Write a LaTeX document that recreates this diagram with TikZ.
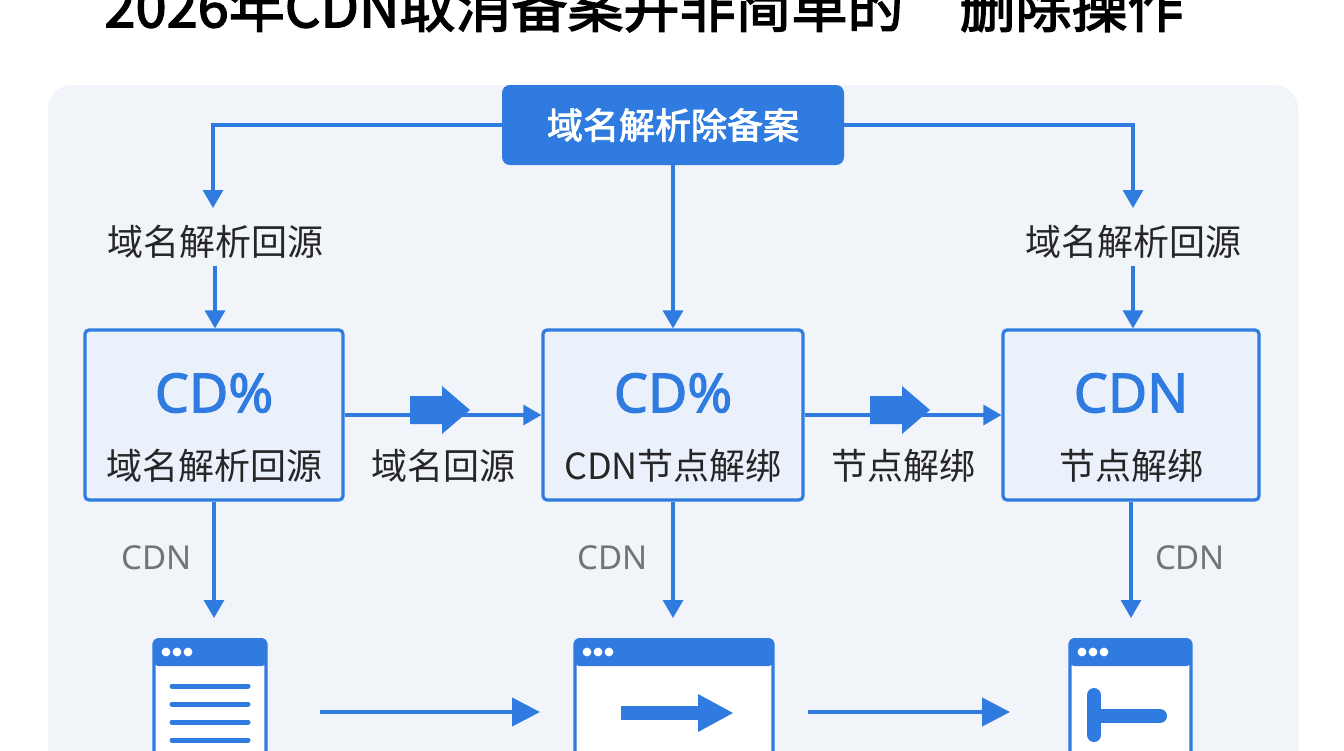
\documentclass[tikz,border=0pt]{standalone}
\usepackage{fontspec}
\setmainfont{Noto Sans}[AutoFakeBold=2]
\newfontfamily\cjk{Noto Sans CJK SC}[AutoFakeBold=2.5]
\usetikzlibrary{arrows.meta}
\definecolor{cdnblue}{HTML}{2F7BE0}
\definecolor{cdnpale}{HTML}{EAF1FB}
\definecolor{cdnback}{HTML}{F1F4F9}
\tikzset{
  flow/.style={draw=cdnblue,line width=1.6pt,-{Triangle[length=9pt,width=10pt]}},
  card/.style={draw=cdnblue,line width=1.6pt,fill=cdnpale,rounded corners=2pt},
  lbl/.style={font=\cjk\fontsize{18}{20}\selectfont,text=black!85},
  gray lbl/.style={font=\fontsize{16.5}{18}\selectfont,text=black!55},
  big/.style={font=\bfseries\fontsize{27}{30}\selectfont,text=cdnblue}
}
\newcommand\fatarrow[1]{%
  \fill[cdnblue] ($(#1)+(-28,-14)$) -- ++(32,0) -- ++(0,-10) -- ++(28,24) -- ++(-28,24)
    -- ++(0,-10) -- ++(-32,0) -- cycle;}
\usetikzlibrary{calc}
\begin{document}
\begin{tikzpicture}[x=0.5pt,y=-0.5pt]
\useasboundingbox (0,0) rectangle (1344,750);
\fill[white] (0,0) rectangle (1344,750);
\fill[cdnback,rounded corners=12pt] (48,85) rectangle (1298,780);
% title, cut at the top
\node[font=\cjk\bfseries\fontsize{28}{30}\selectfont] (title) at (672,6) {2026年CDN取消备案并非简单的“删除操作”};
% top box
\node[fill=cdnblue,rounded corners=4pt,minimum width=171pt,minimum height=40pt,
  text=white,font=\cjk\bfseries\fontsize{18}{20}\selectfont] (top) at (673,125) {域名解析除备案};
\coordinate (tl) at (213,208);
\coordinate (tr) at (1133,208);
\draw[flow] (top.west) -| (tl);
\draw[flow] (top.east) -| (tr);
\node[lbl] (srcL) at (215,242) {域名解析回源};
\node[lbl] (srcR) at (1133,242) {域名解析回源};
% cards
\node[card,minimum width=129pt,minimum height=85pt] (boxL) at (214,415) {};
\node[card,minimum width=130pt,minimum height=85pt] (boxM) at (673,415) {};
\node[card,minimum width=128pt,minimum height=85pt] (boxR) at (1131,415) {};
\node[big] at (214,393) {CD\%};
\node[big] at (673,393) {CD\%};
\node[big] at (1131,393) {CDN};
\node[lbl] at (214,466) {域名解析回源};
\node[lbl] at (673,466) {CDN节点解绑};
\node[lbl] at (1131,466) {节点解绑};
\draw[flow] (srcL) -- (boxL.north -| srcL);
\draw[flow] (srcR) -- (boxR.north -| srcR);
\draw[flow] (top) -- (boxM);
\draw[flow] (boxL) -- (boxM);
\draw[flow] (boxM) -- (boxR);
\fatarrow{438,410}
\fatarrow{898,410}
\node[lbl] at (443,466) {域名回源};
\node[lbl] at (903,466) {节点解绑};
% down to browsers
\coordinate (dL) at (214,618);
\coordinate (dM) at (673,618);
\coordinate (dR) at (1131,618);
\draw[flow] (boxL) -- (dL);
\draw[flow] (boxM) -- (dM);
\draw[flow] (boxR) -- (dR);
\node[gray lbl] at (157,558) {CDN};
\node[gray lbl] at (613,558) {CDN};
\node[gray lbl] at (1190,558) {CDN};
% browser windows
\foreach \xa/\xb in {154/266,575/773,1070/1191}{
  \fill[white,draw=cdnblue,line width=1.6pt,rounded corners=2pt] (\xa,640) rectangle (\xb,790);
  \fill[cdnblue,rounded corners=2pt] (\xa,638) rectangle (\xb,666);
  \foreach \d in {0,1,2}
    \fill[white] (\xa+12+\d*11,652) circle (2.2pt);
}
\foreach \y in {686,704,722,740}
  \draw[cdnblue,line width=2.5pt,line cap=round] (172,\y) -- (248,\y);
\fill[cdnblue] (621,706) rectangle (700,720);
\fill[cdnblue] (698,694) -- (733,713) -- (698,732) -- cycle;
\draw[cdnblue,line width=7pt,line cap=round] (1094,695) -- (1094,735);
\draw[cdnblue,line width=7pt,line cap=round] (1094,716) -- (1160,716);
\coordinate (aL1) at (320,712); \coordinate (aL2) at (540,712);
\coordinate (aR1) at (808,712); \coordinate (aR2) at (1010,712);
\draw[flow,line width=2.2pt,-{Triangle[length=14pt,width=14pt]}] (aL1) -- (aL2);
\draw[flow,line width=2.2pt,-{Triangle[length=14pt,width=14pt]}] (aR1) -- (aR2);
\end{tikzpicture}
\end{document}
